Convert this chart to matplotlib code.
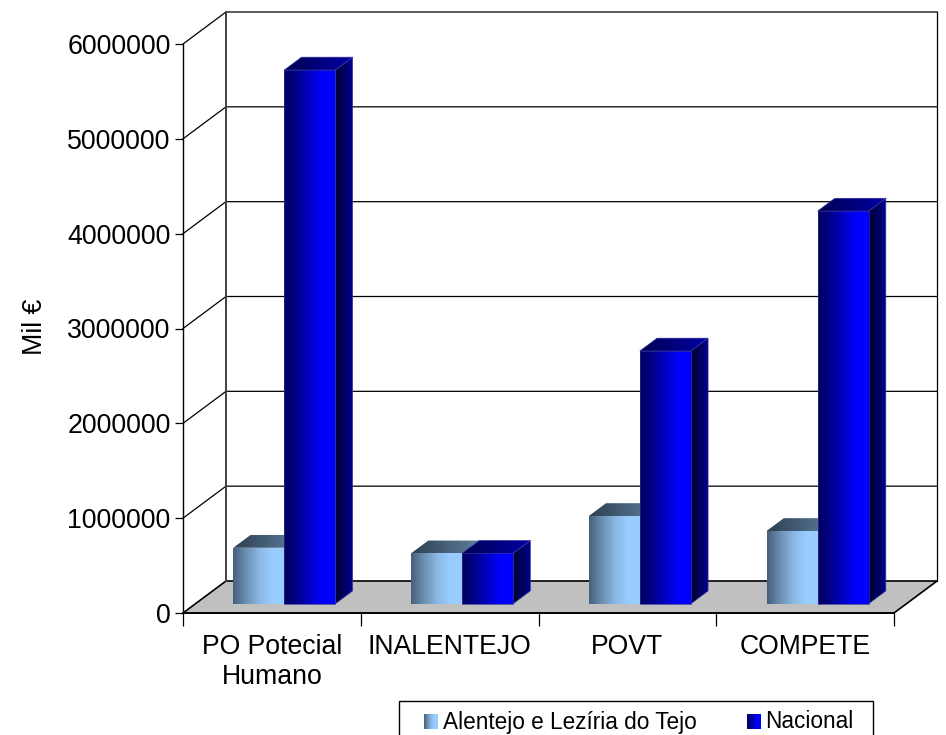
import numpy as np
import matplotlib
matplotlib.use("Agg")
import matplotlib.pyplot as plt
from matplotlib.colors import LinearSegmentedColormap
from matplotlib.patches import Polygon, Rectangle

plt.rcParams['font.family'] = ['Liberation Sans', 'DejaVu Sans']

categories = ['PO Potecial\nHumano', 'INALENTEJO', 'POVT', 'COMPETE']
alentejo = [590000, 531000, 925000, 767000]
nacional = [5628000, 531000, 2665000, 4140000]
series_names = ['Alentejo e Lezíria do Tejo', 'Nacional']
y_ticks = [0, 1000000, 2000000, 3000000, 4000000, 5000000, 6000000]

W, H = 946, 735
# box of the front plane in pixels
LEFT, RIGHT, BOTTOM, TOP = 183, 894, 613, 44
# depth of the box in data units
DEPTH_X = 43 / ((RIGHT - LEFT) / 4)
DEPTH_Y = 32 / ((BOTTOM - TOP) / 6000000)
BAR_W = 0.287
BAR_Z0, BAR_Z1 = 0.29, 0.69

light_cols = ['#46607a', '#6b8fb2', '#8ab7e2', '#99ccff', '#99ccff']
light_top = ['#2e4052', '#5d7f9e']
light_side = ['#1f2d3a', '#4d6a85']
navy_cols = ['#00005a', '#00008c', '#0000c8', '#0000ff', '#0000ff']
navy_top = ['#000050', '#0000a8']
navy_side = ['#000030', '#000090']


def proj(x, y, z):
    return (x + z * DEPTH_X, y + z * DEPTH_Y)


def grad_face(ax, verts, colors, zorder, edge=None):
    # horizontal gradient clipped to a polygon
    verts = np.array(verts)
    cmap = LinearSegmentedColormap.from_list('g', colors)
    img = ax.imshow(np.linspace(0, 1, 128).reshape(1, -1), cmap=cmap, aspect='auto',
                    extent=(verts[:, 0].min(), verts[:, 0].max(), verts[:, 1].min(), verts[:, 1].max()),
                    interpolation='bilinear', zorder=zorder, clip_on=True)
    poly = Polygon(verts, closed=True, transform=ax.transData, facecolor='none',
                   edgecolor=edge if edge else 'none', lw=0.5, zorder=zorder + 0.1, clip_on=False)
    ax.add_patch(poly)
    img.set_clip_path(poly)


def draw_bar(ax, x0, value, front, top, side, zorder, edge):
    x1 = x0 + BAR_W
    grad_face(ax, [proj(x0, value, BAR_Z0), proj(x1, value, BAR_Z0), proj(x1, value, BAR_Z1), proj(x0, value, BAR_Z1)],
              top, zorder, edge)
    grad_face(ax, [proj(x1, 0, BAR_Z0), proj(x1, 0, BAR_Z1), proj(x1, value, BAR_Z1), proj(x1, value, BAR_Z0)],
              side, zorder, edge)
    grad_face(ax, [proj(x0, 0, BAR_Z0), proj(x1, 0, BAR_Z0), proj(x1, value, BAR_Z0), proj(x0, value, BAR_Z0)],
              front, zorder + 0.2, edge)


fig = plt.figure(figsize=(W / 100, H / 100), dpi=100)
ax = fig.add_axes([LEFT / W, 1 - BOTTOM / H, (RIGHT - LEFT) / W, (BOTTOM - TOP) / H])
ax.patch.set_alpha(0)

# floor
floor = [proj(0, 0, 0), proj(4, 0, 0), proj(4, 0, 1), proj(0, 0, 1)]
ax.add_patch(Polygon(floor, closed=True, facecolor='#c0c0c0', edgecolor='black', lw=1.2, zorder=1, clip_on=False))

# walls and grid
for t in y_ticks[1:]:
    a, b, c = proj(0, t, 0), proj(0, t, 1), proj(4, t, 1)
    ax.plot([a[0], b[0], c[0]], [a[1], b[1], c[1]], color='black', lw=0.9, zorder=1, clip_on=False)
b0, b1 = proj(0, 0, 1), proj(0, 6000000, 1)
ax.plot([b0[0], b1[0]], [b0[1], b1[1]], color='#404040', lw=1.4, zorder=1.5, clip_on=False)
b0, b1 = proj(4, 0, 1), proj(4, 6000000, 1)
ax.plot([b0[0], b1[0]], [b0[1], b1[1]], color='black', lw=0.9, zorder=1.5, clip_on=False)

# bars
for i in range(len(categories)):
    z = 3 + i
    draw_bar(ax, i + 0.5 - BAR_W, alentejo[i], light_cols, light_top, light_side, z, None)
    draw_bar(ax, i + 0.5, nacional[i], navy_cols, navy_top, navy_side, z + 0.5, '#3030a0')

ax.set_xlim(0, 4)
ax.set_ylim(0, 6000000)

for s in ['top', 'right']:
    ax.spines[s].set_visible(False)
ax.spines['left'].set_linewidth(1.0)
ax.spines['bottom'].set_linewidth(1.2)
ax.set_yticks(y_ticks)
ax.set_yticklabels([str(t) for t in y_ticks], fontsize=19.3)
ax.tick_params(axis='y', length=6, width=0.9, pad=3)
ax.set_xticks([0, 1, 2, 3, 4])
ax.set_xticklabels([])
ax.set_xticks([0.5, 1.5, 2.5, 3.5], minor=True)
ax.set_xticklabels(categories, minor=True, fontsize=19.2, linespacing=1.2)
ax.tick_params(axis='x', which='major', length=9, width=0.9)
ax.tick_params(axis='x', which='minor', length=0, pad=15)
fig.text(35 / W, 1 - 327 / H, 'Mil €', rotation=90, fontsize=19.3, ha='center', va='center')

# legend drawn in pixel coordinates
lg = fig.add_axes([0, 0, 1, 1], facecolor='none')
lg.set_xlim(0, W)
lg.set_ylim(H, 0)
lg.axis('off')
lg.add_patch(Rectangle((399, 701), 474, 40, facecolor='white', edgecolor='black', lw=1.0))
for x0, cols, name, tx in [(424, light_cols, series_names[0], 443), (747, navy_cols, series_names[1], 765)]:
    lg.imshow(np.linspace(0, 1, 64).reshape(1, -1), cmap=LinearSegmentedColormap.from_list('l', cols),
              extent=(x0, x0 + 14, 729, 714), aspect='auto', zorder=3)
    lg.text(tx, 722, name, fontsize=16.3, va='center', ha='left')
lg.set_xlim(0, W)
lg.set_ylim(H, 0)

fig.savefig('out.png', dpi=100)
